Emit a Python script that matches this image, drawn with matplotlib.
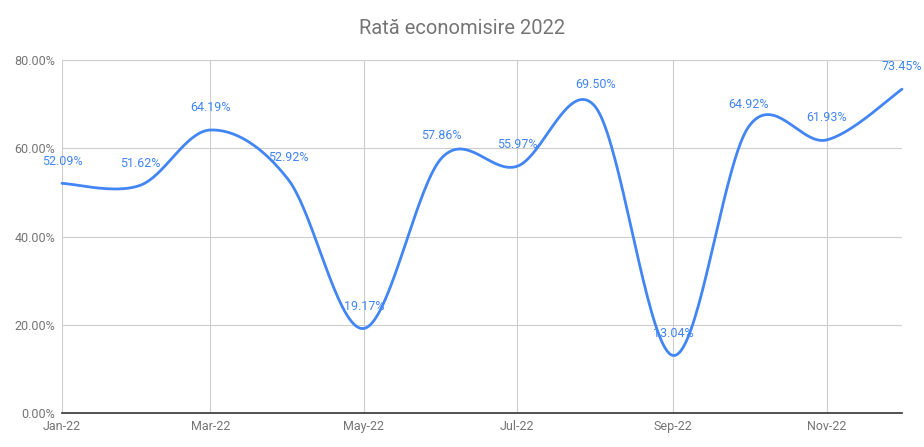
import numpy as np
import matplotlib.pyplot as plt
import matplotlib.dates as mdates
from datetime import date

plt.rcParams['font.family'] = ['Roboto', 'DejaVu Sans']

months = [date(2022, m, 1) for m in range(1, 13)]
rates = [52.09, 51.62, 64.19, 52.92, 19.17, 57.86, 55.97, 69.50, 13.04, 64.92, 61.93, 73.45]
tick_months = [date(2022, m, 1) for m in (1, 3, 5, 7, 9, 11)]
yticks = [0, 20, 40, 60, 80]

blue = '#4285F4'
grey_txt = '#757575'

x = mdates.date2num(months)
y = np.array(rates)


def smooth(xs, ys, n=40):
    # catmull-rom style bezier through the points
    px, py = [], []
    k = len(xs)
    for i in range(k - 1):
        x0, y0 = xs[max(i - 1, 0)], ys[max(i - 1, 0)]
        x1, y1 = xs[i], ys[i]
        x2, y2 = xs[i + 1], ys[i + 1]
        x3, y3 = xs[min(i + 2, k - 1)], ys[min(i + 2, k - 1)]
        c1 = (x1 + (x2 - x0) / 6, y1 + (y2 - y0) / 6)
        c2 = (x2 - (x3 - x1) / 6, y2 - (y3 - y1) / 6)
        t = np.linspace(0, 1, n)
        a, b, c, d = (1 - t) ** 3, 3 * (1 - t) ** 2 * t, 3 * (1 - t) * t ** 2, t ** 3
        px.extend(a * x1 + b * c1[0] + c * c2[0] + d * x2)
        py.extend(a * y1 + b * c1[1] + c * c2[1] + d * y2)
    return np.array(px), np.array(py)


fig = plt.figure(figsize=(9.24, 4.47), dpi=100)
ax = fig.add_axes([62 / 924, 34 / 447, 840 / 924, 352.7 / 447])

sx, sy = smooth(x, y)
ax.plot(sx, sy, color=blue, lw=2.0, solid_capstyle='round', zorder=3, clip_on=False)

for xi, yi in zip(x, y):
    ax.annotate('%.2f%%' % yi, (xi, yi), xytext=(0, 16), textcoords='offset points',
                ha='center', va='center', color=blue, fontsize=9, zorder=4)

ax.set_xlim(x[0], x[-1])
ax.set_ylim(0, 80)
ax.set_yticks(yticks)
ax.set_yticklabels(['%.2f%%' % v for v in yticks])
ax.set_xticks(mdates.date2num(tick_months))
ax.xaxis.set_major_formatter(mdates.DateFormatter('%b-%y'))
ax.grid(True, color='#cccccc', lw=0.8)
ax.tick_params(length=0, colors=grey_txt, labelsize=9)
ax.tick_params(axis='y', pad=5)
ax.tick_params(axis='x', pad=5)
for s in ('top', 'right', 'left'):
    ax.spines[s].set_visible(False)
ax.spines['bottom'].set_color('#333333')
ax.spines['bottom'].set_linewidth(1.2)

fig.text(0.5, 1 - 28 / 447, 'Rată economisire 2022', ha='center', va='center',
         fontsize=14.5, color=grey_txt)

fig.savefig('out.png', dpi=100)
